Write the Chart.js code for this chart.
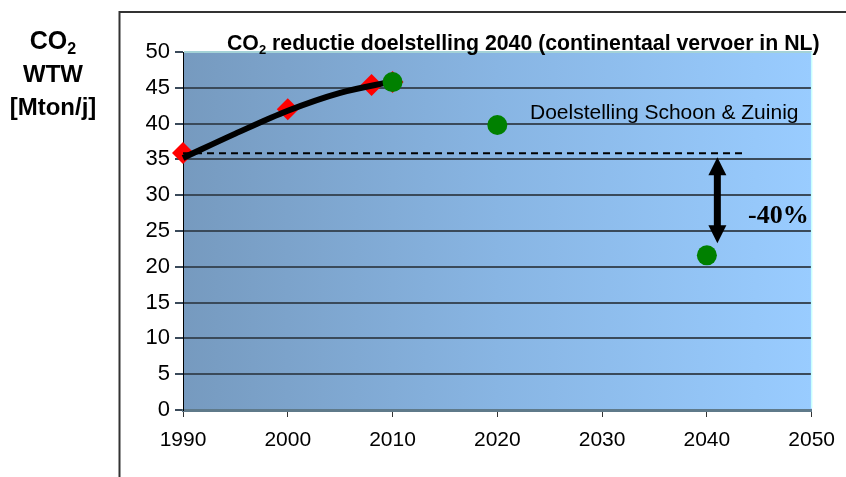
<!DOCTYPE html>
<html>
<head>
<meta charset="utf-8">
<script src="https://cdn.jsdelivr.net/npm/chart.js@4.4.0/dist/chart.umd.min.js"></script>
<style>
  html, body { margin: 0; padding: 0; background: #fff; }
  #wrap { width: 846px; height: 477px; }
</style>
</head>
<body>
<div id="wrap"><canvas id="co2Chart" width="846" height="477"></canvas></div>
<script>
// measured values (Mton/j)
const redYears = [1990, 2000, 2008, 2010];
const redValues = [35.9, 42.0, 45.4, 45.8];
const greenYears = [2010, 2020, 2040];
const greenValues = [45.8, 39.8, 21.6];
const trendYears = [1990, 1995, 2000, 2005, 2010];
const trendValues = [35.2, 38.6, 41.8, 44.3, 45.9];
const baseYears = [1990, 2043.5];
const baseValues = [35.85, 35.85];
const arrowYear = 2041;
const arrowFrom = 35.3;
const arrowTo = 23.3;
const xTicks = [1990, 2000, 2010, 2020, 2030, 2040, 2050];
const yTicks = [0, 5, 10, 15, 20, 25, 30, 35, 40, 45, 50];

const sans = "'Liberation Sans', Arial, sans-serif";
const serif = "'Liberation Serif', 'Times New Roman', serif";

function pts(xs, ys) {
  return xs.map((x, i) => ({ x: x, y: ys[i] }));
}

// draws "CO" with a subscript 2, then an optional rest string; returns width
function drawCO2(ctx, x, y, size, rest, dryRun) {
  ctx.font = "bold " + size + "px " + sans;
  const wCO = ctx.measureText("CO").width;
  ctx.font = "bold " + Math.round(size * 0.62) + "px " + sans;
  const w2 = ctx.measureText("2").width;
  ctx.font = "bold " + size + "px " + sans;
  const wRest = rest ? ctx.measureText(rest).width : 0;
  if (!dryRun) {
    ctx.fillText("CO", x, y);
    ctx.font = "bold " + Math.round(size * 0.62) + "px " + sans;
    ctx.fillText("2", x + wCO, y + size * 0.2);
    ctx.font = "bold " + size + "px " + sans;
    if (rest) ctx.fillText(rest, x + wCO + w2, y);
  }
  return wCO + w2 + wRest;
}

const decorPlugin = {
  id: "decor",
  beforeDraw(chart) {
    const ctx = chart.ctx;
    const a = chart.chartArea;
    ctx.save();
    ctx.fillStyle = "#fff";
    ctx.fillRect(0, 0, chart.width, chart.height);
    const g = ctx.createLinearGradient(a.left, 0, a.right, 0);
    g.addColorStop(0, "#769abf");
    g.addColorStop(0.5, "#88b5e3");
    g.addColorStop(1, "#99ccff");
    ctx.fillStyle = g;
    ctx.fillRect(a.left, a.top, a.right - a.left, a.bottom - a.top);
    ctx.restore();
  },
  afterDraw(chart) {
    const ctx = chart.ctx;
    const a = chart.chartArea;
    const xs = chart.scales.x;
    const ys = chart.scales.y;
    ctx.save();

    // light edge on top and right of the plot area
    ctx.strokeStyle = "#c8ffff";
    ctx.lineWidth = 1.5;
    ctx.beginPath();
    ctx.moveTo(a.left + 1, a.top);
    ctx.lineTo(a.right, a.top);
    ctx.lineTo(a.right, a.bottom - 2);
    ctx.stroke();

    // frame around the chart
    ctx.strokeStyle = "#333";
    ctx.lineWidth = 2;
    ctx.beginPath();
    ctx.moveTo(119.5, 477);
    ctx.lineTo(119.5, 12);
    ctx.lineTo(846, 12);
    ctx.stroke();

    // title
    ctx.fillStyle = "#000";
    ctx.textBaseline = "alphabetic";
    ctx.textAlign = "left";
    const titleRest = " reductie doelstelling 2040 (continentaal vervoer in NL)";
    let tSize = 20;
    const tw = drawCO2(ctx, 0, 0, tSize, titleRest, true);
    tSize = tSize * 593 / tw;
    drawCO2(ctx, 227, 50, tSize, titleRest, false);

    // y axis title
    const wCO2 = drawCO2(ctx, 0, 0, 25, "", true);
    drawCO2(ctx, 53 - wCO2 / 2, 49, 25, "", false);
    ctx.textAlign = "center";
    ctx.font = "bold 24px " + sans;
    ctx.fillText("WTW", 53, 82);
    ctx.fillText("[Mton/j]", 53, 115);

    // target label
    ctx.textAlign = "left";
    ctx.font = "21px " + sans;
    ctx.fillText("Doelstelling Schoon & Zuinig", 530, 119);

    // reduction arrow
    const ax = xs.getPixelForValue(arrowYear);
    const y1 = ys.getPixelForValue(arrowFrom);
    const y2 = ys.getPixelForValue(arrowTo);
    const head = 18, hw = 9;
    ctx.strokeStyle = "#000";
    ctx.lineWidth = 7;
    ctx.beginPath();
    ctx.moveTo(ax, y1 + head - 2);
    ctx.lineTo(ax, y2 - head + 2);
    ctx.stroke();
    ctx.beginPath();
    ctx.moveTo(ax, y1);
    ctx.lineTo(ax - hw, y1 + head);
    ctx.lineTo(ax + hw, y1 + head);
    ctx.closePath();
    ctx.fill();
    ctx.beginPath();
    ctx.moveTo(ax, y2);
    ctx.lineTo(ax - hw, y2 - head);
    ctx.lineTo(ax + hw, y2 - head);
    ctx.closePath();
    ctx.fill();

    ctx.font = "bold 26px " + serif;
    ctx.fillText("-40%", 748, 223);
    ctx.restore();
  }
};

new Chart(document.getElementById("co2Chart"), {
  type: "scatter",
  data: {
    datasets: [
      {
        label: "Doelstelling",
        data: pts(greenYears, greenValues),
        pointStyle: "circle",
        pointRadius: 10,
        pointBackgroundColor: "#008000",
        pointBorderWidth: 0,
        showLine: false,
        clip: false,
        order: 0
      },
      {
        label: "Trend",
        data: pts(trendYears, trendValues),
        showLine: true,
        borderColor: "#000",
        borderWidth: 6,
        pointRadius: 0,
        cubicInterpolationMode: "monotone",
        borderCapStyle: "butt",
        clip: false,
        order: 1
      },
      {
        label: "Niveau 1990",
        data: pts(baseYears, baseValues),
        showLine: true,
        borderColor: "#000",
        borderWidth: 2,
        borderDash: [7, 5],
        pointRadius: 0,
        order: 2
      },
      {
        label: "Realisatie",
        data: pts(redYears, redValues),
        pointStyle: "rectRot",
        pointRadius: 11,
        pointBackgroundColor: "#ff0000",
        pointBorderWidth: 0,
        showLine: false,
        clip: false,
        order: 3
      }
    ]
  },
  options: {
    responsive: false,
    animation: false,
    events: [],
    layout: { padding: { left: 0, right: 31, top: 52, bottom: 0 } },
    plugins: {
      legend: { display: false },
      tooltip: { enabled: false },
      title: { display: false }
    },
    scales: {
      x: {
        type: "linear",
        min: xTicks[0],
        max: xTicks[xTicks.length - 1],
        afterBuildTicks: s => { s.ticks = xTicks.map(v => ({ value: v })); },
        afterFit: s => { s.height = 67; },
        ticks: {
          color: "#000",
          font: { family: sans, size: 21 },
          padding: 11,
          maxRotation: 0,
          callback: v => String(v)
        },
        grid: { drawOnChartArea: false, tickLength: 7, color: "#333", lineWidth: 1 },
        border: { color: "#5f7a8a", width: 3 }
      },
      y: {
        min: yTicks[0],
        max: yTicks[yTicks.length - 1],
        afterBuildTicks: s => { s.ticks = yTicks.map(v => ({ value: v })); },
        afterFit: s => { s.width = 183; },
        ticks: {
          color: "#000",
          font: { family: sans, size: 22 },
          padding: 5
        },
        grid: { color: "#3a4a5a", lineWidth: 2, tickLength: 8 },
        border: { color: "#000", width: 1 }
      }
    }
  },
  plugins: [decorPlugin]
});
</script>
</body>
</html>
